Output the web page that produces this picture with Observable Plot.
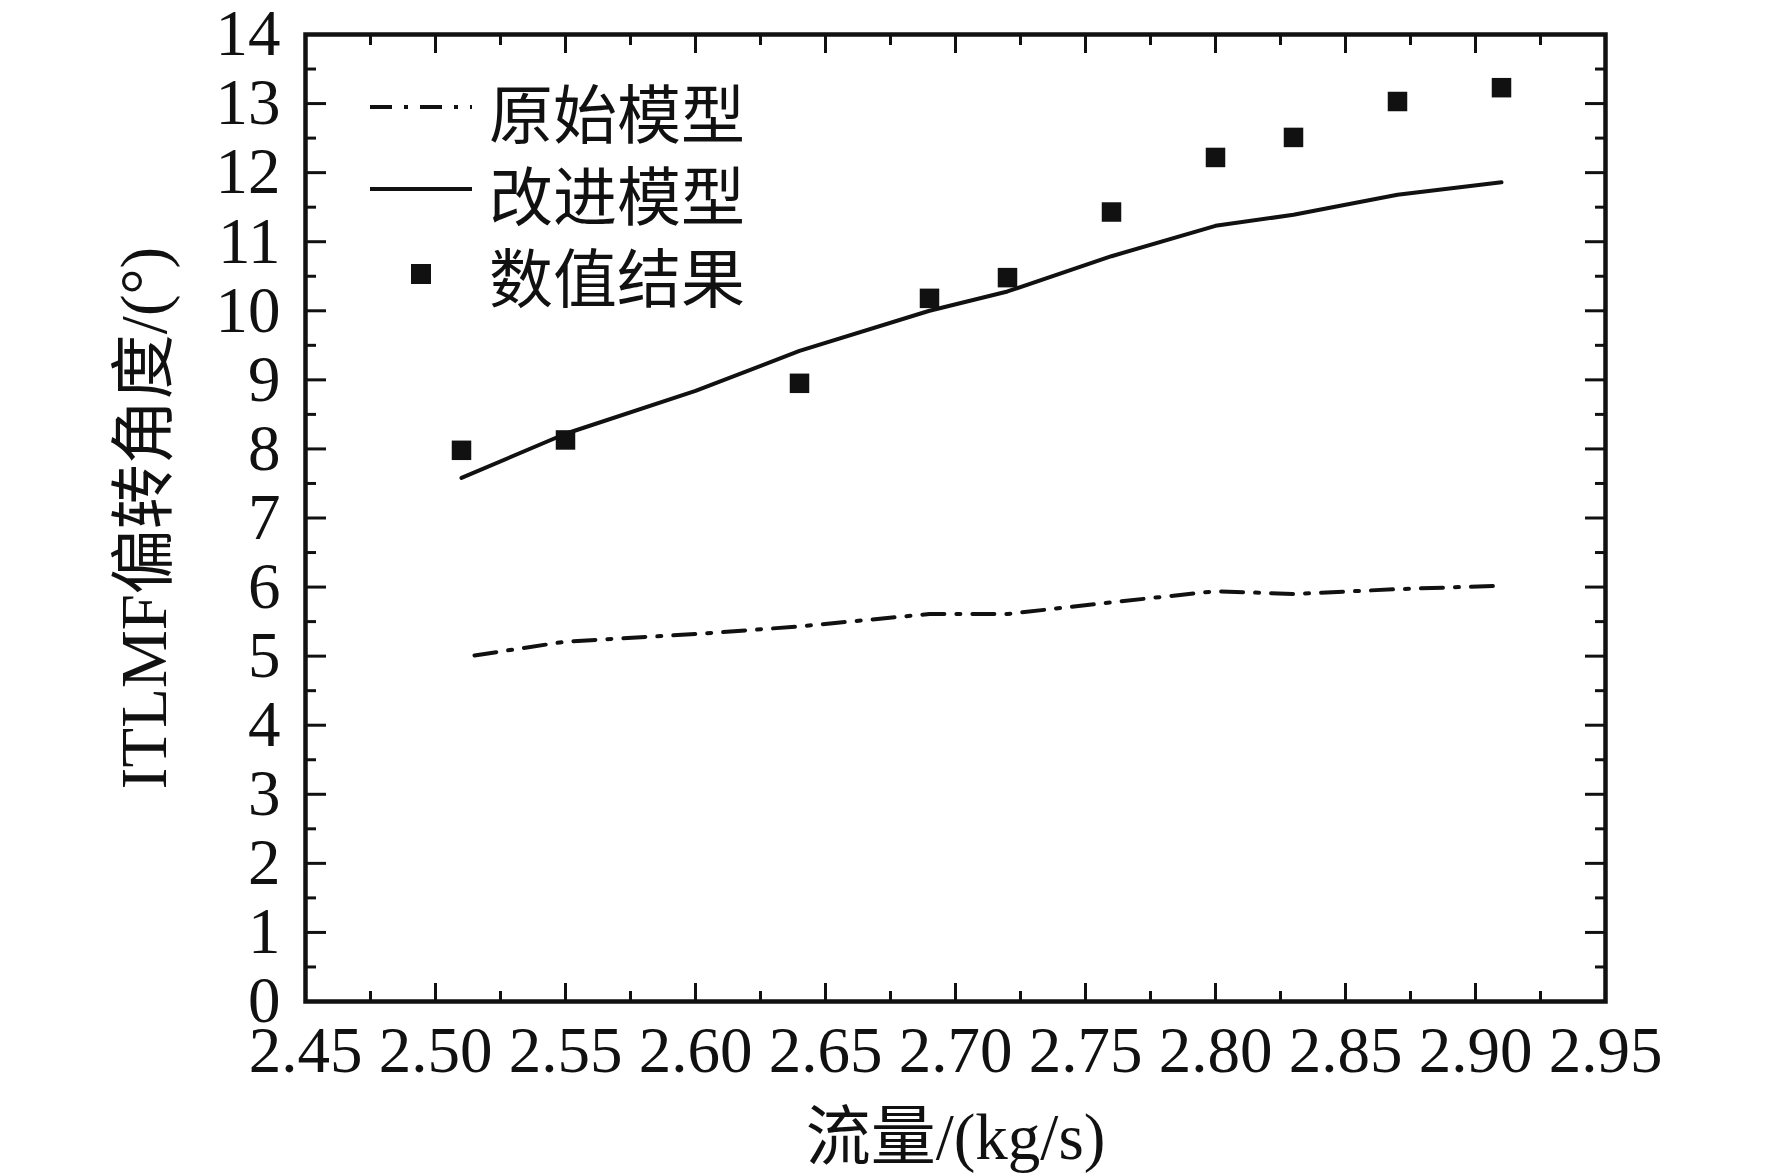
<!DOCTYPE html>
<html><head><meta charset="utf-8">
<script src="https://cdn.jsdelivr.net/npm/d3@7"></script>
<script src="https://cdn.jsdelivr.net/npm/@observablehq/plot@0.6"></script>
<style>body{margin:0;background:#fff;}</style>
</head><body><div id="chart"></div>
<script>
// Data
const flowX = [2.51, 2.55, 2.64, 2.69, 2.72, 2.76, 2.80, 2.83, 2.87, 2.91];
const numericalY = [7.98, 8.13, 8.95, 10.18, 10.48, 11.43, 12.22, 12.51, 13.03, 13.23];
const improvedX = [2.51, 2.55, 2.60, 2.64, 2.69, 2.72, 2.76, 2.80, 2.83, 2.87, 2.91];
const improvedY = [7.58, 8.22, 8.84, 9.42, 10.00, 10.28, 10.79, 11.23, 11.39, 11.68, 11.86];
const originalX = [2.515, 2.55, 2.60, 2.64, 2.69, 2.72, 2.76, 2.80, 2.83, 2.87, 2.91];
const originalY = [5.01, 5.21, 5.32, 5.43, 5.61, 5.61, 5.78, 5.94, 5.90, 5.97, 6.02];
const xMajor = [2.45, 2.50, 2.55, 2.60, 2.65, 2.70, 2.75, 2.80, 2.85, 2.90, 2.95];
const xMinor = [2.475, 2.525, 2.575, 2.625, 2.675, 2.725, 2.775, 2.825, 2.875, 2.925];
const yMajor = [0, 1, 2, 3, 4, 5, 6, 7, 8, 9, 10, 11, 12, 13, 14];
const yMinor = [0.5, 1.5, 2.5, 3.5, 4.5, 5.5, 6.5, 7.5, 8.5, 9.5, 10.5, 11.5, 12.5, 13.5];
const seriesNames = ["原始模型", "改进模型", "数值结果"];
const xTitle = "流量/(kg/s)";
const yTitle = "ITLMF偏转角度/(°)";

const ink = "#111";
const improved = improvedX.map((x, i) => ({x, y: improvedY[i]}));
const original = originalX.map((x, i) => ({x, y: originalY[i]}));
const numerical = flowX.map((x, i) => ({x, y: numericalY[i]}));

const tickOpts = {stroke: ink, strokeWidth: 3, fill: "none", label: null};
const chart = Plot.plot({
  width: 1772, height: 1175,
  marginLeft: 305, marginRight: 167, marginTop: 34, marginBottom: 174,
  x: {domain: [2.45, 2.95]},
  y: {domain: [0, 14]},
  style: {fontFamily: "'Liberation Serif', 'Noto Sans CJK SC', serif", fontSize: "65px", background: "#fff", color: ink},
  marks: [
    // tick labels
    Plot.axisX(xMajor, {anchor: "bottom", tickSize: 0, tickPadding: 24, tickFormat: d => d.toFixed(2), label: null, fill: ink}),
    Plot.axisY(yMajor, {anchor: "left", tickSize: 0, tickPadding: 25, tickFormat: d => String(d), label: null, fill: ink}),
    // inward ticks on all four sides
    Plot.axisX(xMajor, {...tickOpts, anchor: "bottom", tickSize: -18}),
    Plot.axisX(xMinor, {...tickOpts, anchor: "bottom", tickSize: -10}),
    Plot.axisX(xMajor, {...tickOpts, anchor: "top", tickSize: -18}),
    Plot.axisX(xMinor, {...tickOpts, anchor: "top", tickSize: -10}),
    Plot.axisY(yMajor, {...tickOpts, anchor: "left", tickSize: -21}),
    Plot.axisY(yMinor, {...tickOpts, anchor: "left", tickSize: -11}),
    Plot.axisY(yMajor, {...tickOpts, anchor: "right", tickSize: -21}),
    Plot.axisY(yMinor, {...tickOpts, anchor: "right", tickSize: -11}),
    Plot.frame({stroke: ink, strokeWidth: 4.5}),
    // data
    Plot.line(original, {x: "x", y: "y", stroke: ink, strokeWidth: 4, strokeDasharray: "22,12,4,12"}),
    Plot.line(improved, {x: "x", y: "y", stroke: ink, strokeWidth: 4}),
    Plot.dot(numerical, {x: "x", y: "y", symbol: "square", r: 11, fill: ink, stroke: null}),
    // axis titles
    Plot.text([xTitle], {text: d => d, frameAnchor: "bottom", textAnchor: "middle", lineAnchor: "middle", dy: 137, fontSize: 65, fill: ink}),
    Plot.text([yTitle], {text: d => d, frameAnchor: "left", textAnchor: "middle", lineAnchor: "middle", dx: -160, rotate: -90, fontSize: 65, fill: ink})
  ]
});
document.getElementById("chart").append(chart);

// Legend
const svg = d3.select(chart);
const lg = svg.append("g");
const rows = [
  {name: seriesNames[0], y: 110, kind: "dashdot"},
  {name: seriesNames[1], y: 192, kind: "solid"},
  {name: seriesNames[2], y: 274, kind: "square"}
];
rows.forEach(r => {
  if (r.kind === "square") {
    lg.append("rect").attr("x", 411).attr("y", r.y - 10).attr("width", 20).attr("height", 20).attr("fill", ink);
  } else {
    lg.append("line").attr("x1", 370).attr("x2", 472).attr("y1", r.y - 3).attr("y2", r.y - 3)
      .attr("stroke", ink).attr("stroke-width", 4)
      .attr("stroke-dasharray", r.kind === "dashdot" ? "22,12,4,12" : null);
  }
  lg.append("text").attr("x", 489).attr("y", r.y).attr("dominant-baseline", "central")
    .attr("text-anchor", "start")
    .attr("font-family", "'Noto Sans CJK SC', sans-serif").attr("font-size", 64).attr("fill", ink)
    .text(r.name);
});
</script>
</body></html>
